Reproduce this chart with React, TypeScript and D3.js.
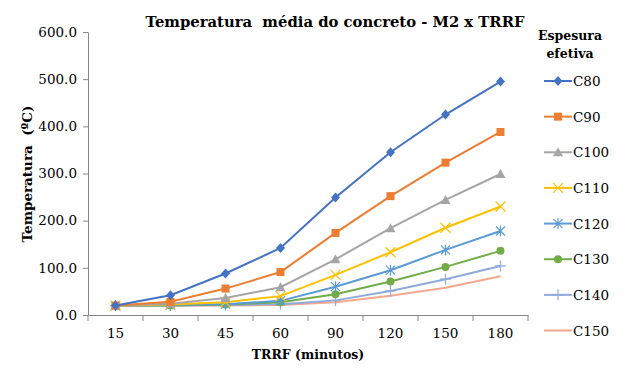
import { useEffect, useRef } from "react";
import * as d3 from "d3";

const categories = ["15", "30", "45", "60", "90", "120", "150", "180"];
const seriesNames = ["C80", "C90", "C100", "C110", "C120", "C130", "C140", "C150"];
const c80 = [20, 42, 88, 142, 249, 345, 425, 495];
const c90 = [20, 28, 56, 91, 174, 252, 323, 388];
const c100 = [20, 24, 36, 59, 118, 184, 244, 299];
const c110 = [20, 22, 27, 40, 85, 133, 185, 230];
const c120 = [20, 21, 23, 30, 60, 95, 138, 178];
const c130 = [20, 20, 22, 27, 44, 71, 102, 136];
const c140 = [20, 20, 21, 23, 31, 51, 76, 104];
const c150 = [20, 20, 20, 21, 27, 41, 58, 82];
const yTicks = [0, 100, 200, 300, 400, 500, 600];

const seriesValues = [c80, c90, c100, c110, c120, c130, c140, c150];
const colors = ["#4472C4", "#ED7D31", "#A5A5A5", "#FFC000", "#5B9BD5", "#70AD47", "#8FAADC", "#F4A88C"];
const markers = ["diamond", "square", "triangle", "x", "star", "circle", "plus", "none"];

const FONT = "'DejaVu Serif', serif";

function drawMarker(g: any, kind: string, x: number, y: number, color: string) {
  if (kind === "diamond") {
    g.append("path").attr("d", `M${x},${y - 5}L${x + 4.5},${y}L${x},${y + 5}L${x - 4.5},${y}Z`).attr("fill", color);
  } else if (kind === "square") {
    g.append("rect").attr("x", x - 4).attr("y", y - 4).attr("width", 8).attr("height", 8).attr("fill", color);
  } else if (kind === "triangle") {
    g.append("path").attr("d", `M${x},${y - 5}L${x + 5},${y + 4}L${x - 5},${y + 4}Z`).attr("fill", color);
  } else if (kind === "circle") {
    g.append("circle").attr("cx", x).attr("cy", y).attr("r", 4).attr("fill", color);
  } else if (kind === "x") {
    g.append("path")
      .attr("d", `M${x - 5},${y - 5}L${x + 5},${y + 5}M${x - 5},${y + 5}L${x + 5},${y - 5}`)
      .attr("stroke", color).attr("stroke-width", 1.2);
  } else if (kind === "star") {
    g.append("path")
      .attr("d", `M${x - 4.5},${y - 4.5}L${x + 4.5},${y + 4.5}M${x - 4.5},${y + 4.5}L${x + 4.5},${y - 4.5}M${x},${y - 5.5}L${x},${y + 5.5}`)
      .attr("stroke", color).attr("stroke-width", 1.2);
  } else if (kind === "plus") {
    g.append("path")
      .attr("d", `M${x - 5.5},${y}L${x + 5.5},${y}M${x},${y - 5.5}L${x},${y + 5.5}`)
      .attr("stroke", color).attr("stroke-width", 1.2);
  }
}

export default function App() {
  const svgRef = useRef<SVGSVGElement>(null);

  useEffect(() => {
    if (!svgRef.current) return;
    const svg = d3.select(svgRef.current);
    svg.selectAll("*").remove();

    const width = 626;
    const height = 370;
    const margin = { top: 32, right: 98, bottom: 55, left: 88 };

    svg.attr("width", width).attr("height", height).style("font-family", FONT);
    svg.append("rect").attr("width", width).attr("height", height).attr("fill", "#fff");

    const x = d3.scaleBand().domain(categories).range([margin.left, width - margin.right]);
    const y = d3.scaleLinear().domain([0, 600]).range([height - margin.bottom, margin.top]);
    const cx = (c: string) => x(c)! + x.bandwidth() / 2;

    // Y axis
    const yAxis = svg.append("g")
      .attr("transform", `translate(${margin.left},0)`)
      .call(d3.axisLeft(y).tickValues(yTicks).tickSize(5).tickSizeOuter(0).tickFormat((d) => d3.format(".1f")(d as number)));
    yAxis.attr("font-family", null);
    yAxis.selectAll("text").style("font-family", FONT).style("font-size", "13.5px").attr("fill", "#000").attr("dx", "-3px");

    // X axis: labels in band centers, ticks on band edges
    const xAxis = svg.append("g")
      .attr("transform", `translate(0,${height - margin.bottom})`)
      .call(d3.axisBottom(x).tickSize(0).tickSizeOuter(0).tickPadding(13));
    xAxis.attr("font-family", null);
    xAxis.selectAll("text").style("font-family", FONT).style("font-size", "13.5px").attr("fill", "#000");
    const edges = categories.map((c) => x(c)!).concat([x(categories[categories.length - 1])! + x.bandwidth()]);
    xAxis.selectAll("line.edge").data(edges).enter().append("line")
      .attr("class", "edge")
      .attr("x1", (d) => d).attr("x2", (d) => d).attr("y1", 0).attr("y2", 6);

    svg.selectAll(".domain, line").attr("stroke", "#868686").attr("stroke-width", 1);

    // Lines (draw later series first so C80 ends on top)
    const line = d3.line<number>()
      .x((_, i) => cx(categories[i]))
      .y((d) => y(d));

    for (let s = seriesValues.length - 1; s >= 0; s--) {
      const g = svg.append("g");
      g.append("path")
        .attr("d", line(seriesValues[s])!)
        .attr("fill", "none")
        .attr("stroke", colors[s])
        .attr("stroke-width", 2);
      seriesValues[s].forEach((v, i) => drawMarker(g, markers[s], cx(categories[i]), y(v), colors[s]));
    }

    // Title
    svg.append("text")
      .attr("x", 335).attr("y", 27)
      .attr("text-anchor", "middle")
      .style("font-size", "14.8px").attr("font-weight", "bold")
      .style("white-space", "pre")
      .text("Temperatura  média do concreto - M2 x TRRF");

    // Axis titles
    svg.append("text")
      .attr("transform", `translate(32,174) rotate(-90)`)
      .attr("text-anchor", "middle")
      .style("font-size", "13.5px").attr("font-weight", "bold")
      .style("white-space", "pre")
      .text("Temperatura  (ºC)");

    svg.append("text")
      .attr("x", cx("60") + x.bandwidth() / 2).attr("y", 359)
      .attr("text-anchor", "middle")
      .style("font-size", "12.5px").attr("font-weight", "bold")
      .text("TRRF (minutos)");

    // Legend
    const legend = svg.append("g");
    legend.append("text").attr("x", 570).attr("y", 40).attr("text-anchor", "middle")
      .style("font-size", "12.5px").attr("font-weight", "bold").text("Espesura");
    legend.append("text").attr("x", 570).attr("y", 58).attr("text-anchor", "middle")
      .style("font-size", "12.5px").attr("font-weight", "bold").text("efetiva");

    const legendY = d3.scalePoint<string>().domain(seriesNames).range([81, 330.5]);
    seriesNames.forEach((name, s) => {
      const ly = legendY(name)!;
      const g = legend.append("g");
      g.append("line").attr("x1", 544).attr("x2", 572).attr("y1", ly).attr("y2", ly)
        .attr("stroke", colors[s]).attr("stroke-width", 2);
      drawMarker(g, markers[s], 558, ly, colors[s]);
      g.append("text").attr("x", 573).attr("y", ly + 5)
        .style("font-size", "13.5px").attr("fill", "#000").text(name);
    });
  }, []);

  return (
    <div style={{ position: "absolute", left: 0, top: 0 }}>
      <svg ref={svgRef}></svg>
    </div>
  );
}
